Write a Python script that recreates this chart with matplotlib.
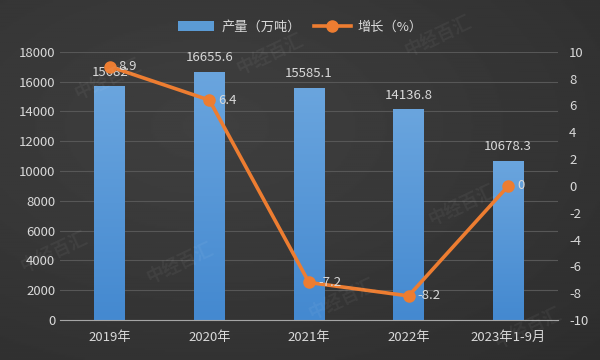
import numpy as np
import matplotlib
matplotlib.use("Agg")
import matplotlib.pyplot as plt
from matplotlib.colors import LinearSegmentedColormap

plt.rcParams['font.family'] = ['Noto Sans CJK SC', 'DejaVu Sans']
plt.rcParams['axes.unicode_minus'] = False

categories = ['2019年', '2020年', '2021年', '2022年', '2023年1-9月']
output = [15682, 16655.6, 15585.1, 14136.8, 10678.3]
output_labels = ['15682', '16655.6', '15585.1', '14136.8', '10678.3']
growth = [8.9, 6.4, -7.2, -8.2, 0]
growth_labels = ['8.9', '6.4', '-7.2', '-8.2', '0']

txt = '#d9d9d9'
fig = plt.figure(figsize=(6, 3.6), dpi=100)

# dark gradient background
bg = fig.add_axes([0, 0, 1, 1], zorder=-10)
yy, xx = np.mgrid[0:1:200j, 0:1:300j]
grad = 0.25 - 0.08 * np.sqrt((xx - 0.35) ** 2 + (yy - 0.35) ** 2)
bg.imshow(grad, cmap='gray', vmin=0, vmax=1, aspect='auto', extent=[0, 1, 0, 1])
bg.axis('off')

ax = fig.add_axes([0.1, 0.111, 0.83, 0.745])
ax.patch.set_alpha(0)
x = np.arange(len(categories))
bars = ax.bar(x, output, width=0.31, color='#5b9bd5', zorder=2)

# gradient fill inside bars
cmap = LinearSegmentedColormap.from_list('b', ['#4489d0', '#6aa5de'])
g = np.linspace(0, 1, 100).reshape(-1, 1)
for b in bars:
    im = ax.imshow(g, cmap=cmap, aspect='auto', origin='lower', zorder=2,
                   extent=[b.get_x(), b.get_x() + b.get_width(), 0, b.get_height()])
    im.set_clip_path(b)

ax.set_xlim(-0.5, len(categories) - 0.5)
ax.set_ylim(0, 18000)
ax.set_yticks(np.arange(0, 18001, 2000))
ax.set_xticks(x)
ax.set_xticklabels(categories)
ax.grid(axis='y', color='#575757', linewidth=0.8, zorder=0)
for s in ['top', 'right', 'left']:
    ax.spines[s].set_visible(False)
ax.spines['bottom'].set_color('#a6a6a6')
ax.tick_params(colors=txt, labelsize=9.5, length=0)
ax.tick_params(axis='x', pad=8)

for xi, v, lab in zip(x, output, output_labels):
    ax.text(xi, v + 500, lab, ha='center', va='bottom', color=txt, fontsize=9.5, zorder=5)

ax2 = ax.twinx()
ax2.set_ylim(-10, 10)
ax2.set_yticks(np.arange(-10, 11, 2))
for s in ax2.spines.values():
    s.set_visible(False)
ax2.tick_params(colors=txt, labelsize=9.5, length=0, pad=8)
ln, = ax2.plot(x, growth, color='#ed7d31', linewidth=2.6, marker='o', markersize=8, zorder=4)

for xi, v, lab in zip(x, growth, growth_labels):
    ax2.text(xi + 0.09, v, lab, ha='left', va='center', color=txt, fontsize=9.5, zorder=5)

# watermarks
for wx, wy in [(0.18, 0.78), (0.45, 0.85), (0.73, 0.9), (0.09, 0.3), (0.3, 0.27),
               (0.57, 0.17), (0.77, 0.43), (0.88, 0.09)]:
    fig.text(wx, wy, '中经百汇', color='white', alpha=0.05, fontsize=13, rotation=25,
             ha='center', va='center', fontweight='bold')

fig.legend([bars, ln], ['产量（万吨）', '增长（%）'], loc='center', bbox_to_anchor=(0.5, 0.925),
           ncol=2, frameon=False, fontsize=9.5, labelcolor=txt, handlelength=2.8,
           columnspacing=1.0, handletextpad=0.5)

fig.savefig('out.png', dpi=100)
